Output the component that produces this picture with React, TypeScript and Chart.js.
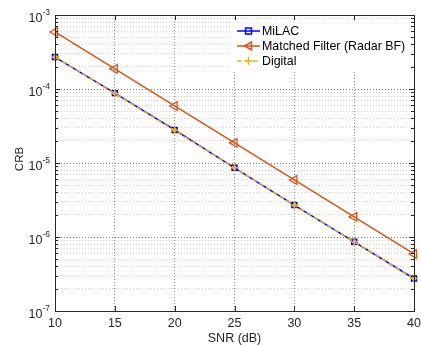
import React, { useEffect, useRef } from "react";
import { Chart, registerables } from "chart.js";

Chart.register(...registerables);

const snrDb = [10, 15, 20, 25, 30, 35, 40];
const crbMilac = [2.7e-4, 8.8e-5, 2.8e-5, 8.6e-6, 2.7e-6, 8.6e-7, 2.75e-7];
const crbMatched = [5.9e-4, 1.87e-4, 5.9e-5, 1.87e-5, 5.9e-6, 1.87e-6, 5.9e-7];
const crbDigital = [2.7e-4, 8.7e-5, 2.75e-5, 8.6e-6, 2.7e-6, 8.6e-7, 2.75e-7];
const seriesNames = ["MiLAC", "Matched Filter (Radar BF)", "Digital"];
const yExponents = [-7, -6, -5, -4, -3];
const xTicks = [10, 15, 20, 25, 30, 35, 40];
const xTitle = "SNR (dB)";
const yTitle = "CRB";

const FONT = "'Liberation Sans', Arial, sans-serif";
const BLUE = "#0000ff";
const ORANGE = "#D95319";
const YELLOW = "#EDB120";
const INK = "#262626";

const isDecade = (v: number) => {
  const l = Math.log10(v);
  return Math.abs(l - Math.round(l)) < 1e-6;
};

const frameAndLabels = {
  id: "frameAndLabels",
  afterDraw(chart: any) {
    const { ctx, chartArea: a, scales } = chart;
    const x = scales.x;
    const y = scales.y;
    ctx.save();
    // inward tick marks on all four sides
    ctx.strokeStyle = INK;
    ctx.lineWidth = 1;
    ctx.setLineDash([]);
    ctx.beginPath();
    for (const t of xTicks) {
      const px = Math.round(x.getPixelForValue(t)) + 0.5;
      ctx.moveTo(px, a.bottom);
      ctx.lineTo(px, a.bottom - 5);
      ctx.moveTo(px, a.top);
      ctx.lineTo(px, a.top + 5);
    }
    for (const e of yExponents) {
      for (let m = 1; m <= 9; m++) {
        const v = m * Math.pow(10, e);
        if (v > Math.pow(10, yExponents[yExponents.length - 1]) * 1.0001) break;
        const py = Math.round(y.getPixelForValue(v)) + 0.5;
        const len = m === 1 ? 5 : 3;
        ctx.moveTo(a.left, py);
        ctx.lineTo(a.left + len, py);
        ctx.moveTo(a.right, py);
        ctx.lineTo(a.right - len, py);
      }
    }
    ctx.stroke();
    // axes box
    ctx.strokeRect(Math.round(a.left) + 0.5, Math.round(a.top) + 0.5, Math.round(a.right - a.left), Math.round(a.bottom - a.top));

    // y tick labels with superscript exponents
    ctx.fillStyle = INK;
    ctx.textBaseline = "middle";
    for (const e of yExponents) {
      const py = y.getPixelForValue(Math.pow(10, e));
      const exp = String(e);
      ctx.font = `8.5px ${FONT}`;
      const ew = ctx.measureText(exp).width;
      ctx.textAlign = "left";
      const right = a.left - 5;
      ctx.fillText(exp, right - ew, py - 2);
      ctx.font = `12.5px ${FONT}`;
      ctx.textAlign = "right";
      ctx.fillText("10", right - ew, py + 4);
    }

    // axis titles
    ctx.font = `12.5px ${FONT}`;
    ctx.textAlign = "center";
    ctx.fillText(xTitle, (a.left + a.right) / 2, 339);
    ctx.save();
    ctx.translate(20, (a.top + a.bottom) / 2 - 4);
    ctx.rotate(-Math.PI / 2);
    ctx.font = `11.5px ${FONT}`;
    ctx.fillText(yTitle, 0, 0);
    ctx.restore();

    // legend
    const lx = 231, ly = 20, lw = 180, lh = 52;
    ctx.fillStyle = "#ffffff";
    ctx.fillRect(lx, ly, lw, lh);
    const rows = [
      { color: BLUE, dash: [] as number[], marker: "rect" },
      { color: ORANGE, dash: [] as number[], marker: "tri" },
      { color: YELLOW, dash: [5, 3], marker: "cross" },
    ];
    rows.forEach((r, i) => {
      const ry = 31 + i * 15;
      ctx.strokeStyle = r.color;
      ctx.lineWidth = 1.5;
      ctx.setLineDash(r.dash);
      ctx.beginPath();
      ctx.moveTo(237, ry);
      ctx.lineTo(260, ry);
      ctx.stroke();
      ctx.setLineDash([]);
      const cx = 248.5;
      ctx.beginPath();
      if (r.marker === "rect") {
        ctx.rect(cx - 3, ry - 3, 6, 6);
      } else if (r.marker === "tri") {
        ctx.moveTo(cx - 4, ry);
        ctx.lineTo(cx + 3, ry - 4);
        ctx.lineTo(cx + 3, ry + 4);
        ctx.closePath();
      } else {
        ctx.moveTo(cx - 4, ry);
        ctx.lineTo(cx + 4, ry);
        ctx.moveTo(cx, ry - 4);
        ctx.lineTo(cx, ry + 4);
      }
      ctx.stroke();
      ctx.fillStyle = "#000000";
      ctx.font = `12.4px ${FONT}`;
      ctx.textAlign = "left";
      ctx.textBaseline = "middle";
      ctx.fillText(seriesNames[i], 262, ry + 1);
    });
    ctx.restore();
  },
};

export default function App() {
  const ref = useRef<HTMLCanvasElement>(null);
  useEffect(() => {
    const points = (vals: number[]) => snrDb.map((s, i) => ({ x: s, y: vals[i] }));
    const chart = new Chart(ref.current as HTMLCanvasElement, {
      type: "line",
      data: {
        datasets: [
          {
            label: seriesNames[2],
            data: points(crbDigital),
            borderColor: YELLOW,
            borderWidth: 1.5,
            borderDash: [5, 3],
            pointStyle: "cross",
            pointRadius: 4,
            pointBorderColor: YELLOW,
            pointBorderWidth: 1.5,
            pointBackgroundColor: "transparent",
            order: 0,
          },
          {
            label: seriesNames[1],
            data: points(crbMatched),
            borderColor: ORANGE,
            borderWidth: 1.5,
            pointStyle: "triangle",
            rotation: 270,
            pointRadius: 5,
            pointBorderColor: ORANGE,
            pointBorderWidth: 1.3,
            pointBackgroundColor: "transparent",
            order: 1,
          },
          {
            label: seriesNames[0],
            data: points(crbMilac),
            borderColor: BLUE,
            borderWidth: 1.5,
            pointStyle: "rect",
            pointRadius: 3.5,
            pointBorderColor: BLUE,
            pointBorderWidth: 1.5,
            pointBackgroundColor: "transparent",
            order: 2,
          },
        ] as any,
      },
      options: {
        animation: false,
        responsive: false,
        clip: false as any,
        layout: { padding: { top: 15, right: 7, left: 0, bottom: 0 } },
        plugins: { legend: { display: false }, tooltip: { enabled: false } },
        scales: {
          x: {
            type: "linear",
            min: 10,
            max: 40,
            afterBuildTicks: (s: any) => {
              s.ticks = xTicks.map((v) => ({ value: v }));
            },
            afterFit: (s: any) => {
              s.height = 35;
              s.paddingLeft = 0;
              s.paddingRight = 0;
            },
            ticks: {
              color: INK,
              font: { family: FONT, size: 12.5 },
              padding: 5,
              maxRotation: 0,
            },
            grid: { color: "rgba(0,0,0,0.45)", drawTicks: false },
            border: { display: false, dash: [1, 2] },
          },
          y: {
            type: "logarithmic",
            min: 1e-7,
            max: 1e-3,
            afterBuildTicks: (s: any) => {
              const t: { value: number }[] = [];
              for (const e of yExponents) {
                for (let m = 1; m <= 9; m++) {
                  const v = m * Math.pow(10, e);
                  if (v <= 1.0001e-3) t.push({ value: v });
                }
              }
              s.ticks = t;
            },
            afterFit: (s: any) => {
              s.width = 55;
              s.paddingTop = 0;
              s.paddingBottom = 0;
            },
            ticks: { display: false },
            grid: {
              drawTicks: false,
              color: (c: any) => (c.tick && isDecade(c.tick.value) ? "rgba(0,0,0,0.5)" : "rgba(0,0,0,0.18)"),
            },
            border: { display: false, dash: [1, 2] },
          },
        },
      },
      plugins: [frameAndLabels],
    } as any);
    return () => chart.destroy();
  }, []);
  return (
    <div style={{ position: "fixed", left: 0, top: 0, width: 421, height: 346, background: "#fff" }}>
      <canvas ref={ref} width={421} height={346} />
    </div>
  );
}
